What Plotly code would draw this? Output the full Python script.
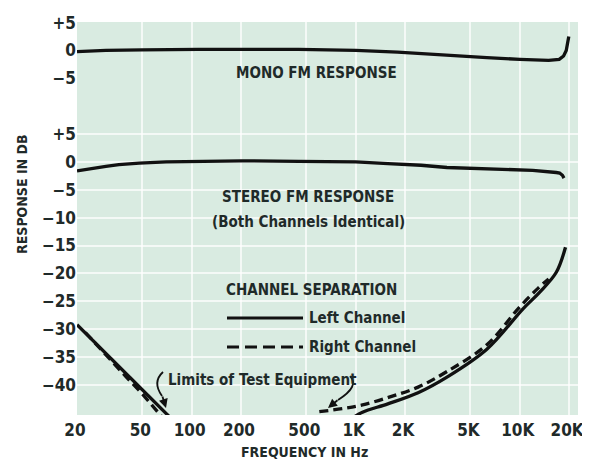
import plotly.graph_objects as go

# FM tuner response curves
mono_freq = [20, 30, 50, 110, 450, 1000, 1800, 2500, 4000, 6300, 10000, 15000, 17400, 18500, 19200, 19600, 19900]
mono_db = [-0.2, 0.0, 0.1, 0.2, 0.2, 0.0, -0.3, -0.6, -1.0, -1.3, -1.6, -1.8, -1.6, -1.0, 0.0, 1.2, 2.5]

stereo_freq = [20, 25, 30, 36, 48, 70, 111, 200, 450, 1000, 1570, 2500, 3600, 6000, 8300, 12000, 16700, 17500, 18200, 18600]
stereo_db = [-1.6, -1.1, -0.8, -0.5, -0.2, 0.0, 0.1, 0.2, 0.1, 0.0, -0.3, -0.6, -1.0, -1.2, -1.3, -1.5, -1.9, -2.0, -2.4, -2.9]

# channel separation, low end and high end
left_lo_freq = [20, 30, 45, 60, 76]
left_lo_db = [-29.2, -34.4, -39.4, -43.1, -46.2]
right_lo_freq = [22.5, 30, 40, 50, 67]
right_lo_db = [-30.6, -34.7, -38.6, -41.6, -46.0]

left_hi_freq = [950, 1100, 1570, 2400, 3600, 6300, 10500, 13200, 16700, 19000]
left_hi_db = [-46.0, -44.9, -43.4, -41.4, -38.6, -33.6, -26.3, -23.4, -19.8, -15.3]
right_hi_freq = [600, 850, 1100, 1600, 2400, 3600, 6300, 10000, 13000, 15000]
right_hi_db = [-44.8, -44.2, -43.6, -42.2, -40.4, -37.6, -32.8, -26.0, -22.6, -21.0]

freq_ticks = [20, 50, 100, 200, 500, 1000, 2000, 5000, 10000, 20000]
freq_labels = ["20", "50", "100", "200", "500", "1K", "2K", "5K", "10K", "20K"]
db_ticks = [5, 0, -5, -10, -15, -20, -25, -30, -35, -40]
db_labels = ["+5", "0", "\u22125", "\u221210", "\u221215", "\u221220", "\u221225", "\u221230", "\u221235", "\u221240"]
mono_ticks = [5, 0, -5]
mono_labels = ["+5", "0", "\u22125"]

MONO_OFFSET = 20  # mono panel sits 20 dB above the stereo panel
Y_RANGE = [-45.4, 25.1]
X_RANGE = [1.3010, 4.3550]  # log10 Hz; the chart runs a little past 20K

INK = "#1f2a29"
BG = "#d9ebe1"
FONT = "DejaVu Sans Condensed, DejaVu Sans, sans-serif"

# the page body adds an 8px margin, so the figure is drawn 8px smaller
PAGE = 8
W, H = 590 - PAGE, 465 - PAGE
L, R, T, B = 77, 578, 22, 415  # plot area in window pixels


def px(x):
    return (x - L) / (R - L)


def py(y):
    return (B - y) / (B - T)


fig = go.Figure()
line = dict(color="#111", width=3.3)
dash = dict(color="#111", width=3.3, dash="9px,5px")

fig.add_trace(go.Scatter(x=mono_freq, y=mono_db, mode="lines", line=line, yaxis="y2"))
fig.add_trace(go.Scatter(x=stereo_freq, y=stereo_db, mode="lines", line=line))
fig.add_trace(go.Scatter(x=left_lo_freq, y=left_lo_db, mode="lines", line=line))
fig.add_trace(go.Scatter(x=right_lo_freq, y=right_lo_db, mode="lines", line=dash))
fig.add_trace(go.Scatter(x=left_hi_freq, y=left_hi_db, mode="lines", line=line, line_shape="spline"))
fig.add_trace(go.Scatter(x=right_hi_freq, y=right_hi_db, mode="lines", line=dash, line_shape="spline"))

# legend samples
fig.add_shape(type="line", xref="paper", yref="paper", x0=px(227), x1=px(303),
              y0=py(318), y1=py(318), line=dict(color="#111", width=3))
fig.add_shape(type="line", xref="paper", yref="paper", x0=px(227), x1=px(303),
              y0=py(347), y1=py(347), line=dict(color="#111", width=3, dash="12px,6px"))

texts = [
    ("MONO FM RESPONSE", 316, 73, "center"),
    ("STEREO FM RESPONSE", 308, 197, "center"),
    ("(Both Channels Identical)", 308, 222, "center"),
    ("CHANNEL SEPARATION", 311, 290, "center"),
    ("Left Channel", 307, 318, "left"),
    ("Right Channel", 307, 347, "left"),
    ("Limits of Test Equipment", 166, 380, "left"),
]
for t, x, y, anchor in texts:
    fig.add_annotation(text=t, xref="paper", yref="paper", x=px(x), y=py(y),
                       xanchor=anchor, yanchor="middle", showarrow=False,
                       font=dict(size=15, color=INK, family=FONT, weight="bold"))

# axis titles, placed where the original sets them
fig.add_annotation(text="FREQUENCY IN Hz", xref="paper", yref="paper", x=px(304), y=py(452),
                   xanchor="center", yanchor="middle", showarrow=False,
                   font=dict(size=14, color=INK, family=FONT, weight="bold"))
fig.add_annotation(text="RESPONSE IN DB", xref="paper", yref="paper", x=px(22), y=py(194),
                   xanchor="center", yanchor="middle", textangle=-90, showarrow=False,
                   font=dict(size=14, color=INK, family=FONT, weight="bold"))


# curved leaders to the test-equipment limits
def P(x, y):
    return f"{px(x):.4f},{py(y):.4f}"


fig.add_shape(type="path", xref="paper", yref="paper",
              path=f"M {P(163, 372)} Q {P(152, 382)} {P(162, 396)}",
              line=dict(color="#111", width=1.8))
fig.add_shape(type="path", xref="paper", yref="paper",
              path=f"M {P(350, 376)} Q {P(360, 386)} {P(338, 400)}",
              line=dict(color="#111", width=1.8))
fig.add_annotation(xref="paper", yref="paper", x=px(166), y=py(408), text="",
                   showarrow=True, ax=-4, ay=-13, arrowhead=2, arrowwidth=1.8, arrowcolor="#111")
fig.add_annotation(xref="paper", yref="paper", x=px(328), y=py(408), text="",
                   showarrow=True, ax=11, ay=-9, arrowhead=2, arrowwidth=1.8, arrowcolor="#111")

fig.update_layout(
    width=W, height=H,
    margin=dict(l=L - PAGE, r=W - (R - PAGE), t=T - PAGE, b=H - (B - PAGE), autoexpand=False),
    paper_bgcolor="white", plot_bgcolor=BG,
    showlegend=False,
    font=dict(family=FONT, color=INK, size=17, weight="bold"),
    xaxis=dict(type="log", range=X_RANGE, tickvals=freq_ticks, ticktext=freq_labels,
               showgrid=True, gridcolor="rgba(255,255,255,0.7)", gridwidth=1.5,
               zeroline=False, showline=False, ticks="", ticklen=0, automargin=False,
               ticklabeloverflow="allow", ticklabelstandoff=3, ticklabelshift=-2,
               tickfont=dict(size=17, weight="bold")),
    yaxis=dict(range=Y_RANGE, tickvals=db_ticks, ticktext=db_labels,
               showgrid=True, gridcolor="rgba(255,255,255,0.7)", gridwidth=1.5,
               zeroline=False, showline=False, ticks="", automargin=False,
               tickfont=dict(size=17, weight="bold")),
    yaxis2=dict(range=[Y_RANGE[0] - MONO_OFFSET, Y_RANGE[1] - MONO_OFFSET], overlaying="y", side="left",
                tickvals=mono_ticks, ticktext=mono_labels, showgrid=False, zeroline=False,
                showline=False, ticks="", automargin=False, tickfont=dict(size=17, weight="bold")),
)

fig.write_html("out.html")
